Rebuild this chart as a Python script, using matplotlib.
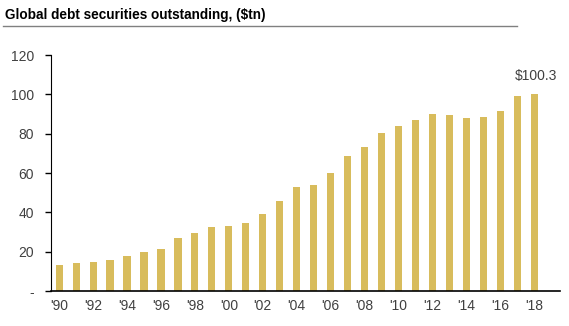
import matplotlib
matplotlib.use("Agg")
import matplotlib.pyplot as plt
from matplotlib.lines import Line2D

# Deuda global en títulos, billones de USD
ANIOS = list(range(1990, 2019))
DEUDA = [13.2, 14.4, 14.9, 16.0, 17.8, 19.8, 21.2, 26.8, 29.8, 32.5,
         33.0, 34.4, 39.3, 45.8, 52.9, 53.7, 59.8, 68.6, 73.4, 80.5,
         83.9, 87.1, 89.8, 89.6, 88.1, 88.3, 91.4, 99.1, 100.3]
ETIQUETAS_X = [f"'{a % 100:02d}" if a % 2 == 0 else "" for a in ANIOS]
TICKS_Y = [0, 20, 40, 60, 80, 100, 120]
ETIQUETAS_Y = ['-', '20', '40', '60', '80', '100', '120']

COLOR_BARRA = '#D8BC5C'
COLOR_TEXTO = '#404040'

plt.rcParams['font.family'] = ['Liberation Sans', 'DejaVu Sans']

fig = plt.figure(figsize=(5.69, 3.26), dpi=100)
ax = fig.add_axes([0.089, 0.107, 0.895, 0.724])

x = list(range(len(ANIOS)))
ax.bar(x, DEUDA, width=0.42, color=COLOR_BARRA)

ax.set_xlim(-0.5, 29.5)
ax.set_ylim(0, 120)
ax.set_xticks(x)
ax.set_xticklabels(ETIQUETAS_X, fontsize=10, color=COLOR_TEXTO)
ax.set_yticks(TICKS_Y)
ax.set_yticklabels(ETIQUETAS_Y, fontsize=10, color=COLOR_TEXTO)
ax.tick_params(axis='x', length=0, pad=6)
ax.tick_params(axis='y', length=4, width=1, direction='out', pad=8)

for lado in ['top', 'right']:
    ax.spines[lado].set_visible(False)
ax.spines['left'].set_color('black')
ax.spines['bottom'].set_color('black')
ax.spines['bottom'].set_linewidth(1.2)

# Etiqueta del último valor
ax.annotate(f"${DEUDA[-1]:.1f}", (x[-1], DEUDA[-1]), xytext=(1, 8),
            textcoords='offset points', ha='center', va='bottom',
            fontsize=10, color=COLOR_TEXTO)

# Título y línea bajo el título
fig.text(0.009, 0.955, 'Global debt securities outstanding, ($tn)',
         fontsize=9.8, fontweight='bold', color='black', ha='left', va='center')
fig.add_artist(Line2D([0.006, 0.908], [0.921, 0.921], transform=fig.transFigure,
                      color='#808080', linewidth=1))

plt.savefig('out.png', dpi=100)
plt.close()
